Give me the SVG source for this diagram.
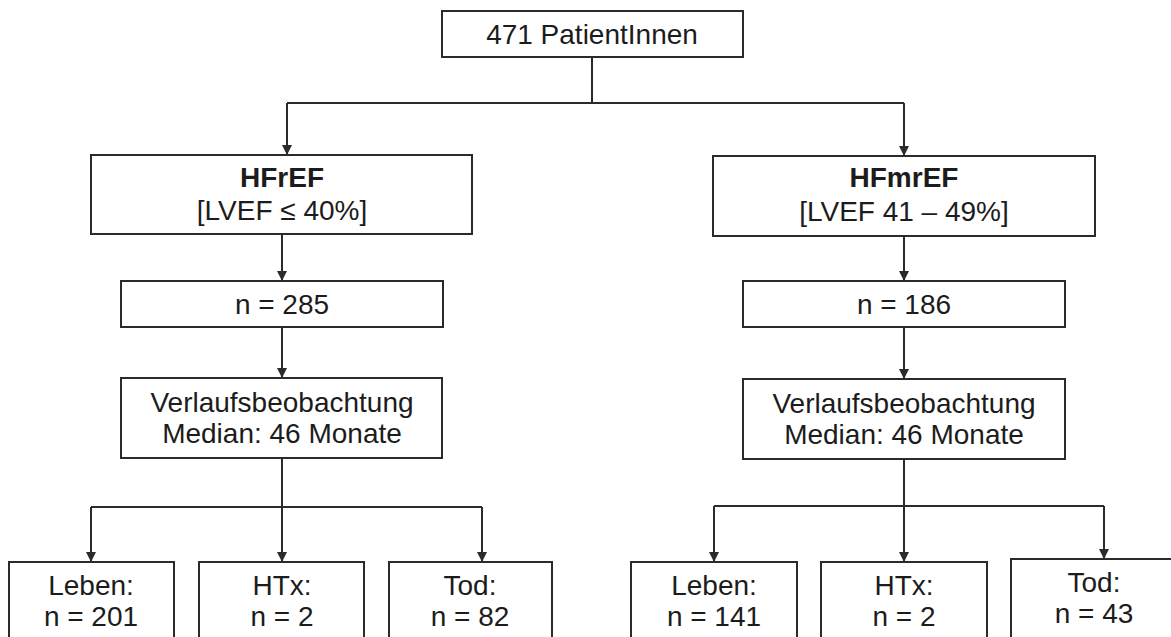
<svg xmlns="http://www.w3.org/2000/svg" width="1171" height="637" viewBox="0 0 1171 637">
  <style>
    .box { fill: #ffffff; stroke: #2b2b2b; stroke-width: 2; }
    .lbl { font-family: "Liberation Sans", Arial, Helvetica, sans-serif; font-size: 28px; fill: #1c1c1c; text-anchor: middle; }
    .bold { font-weight: bold; }
    .wire { fill: none; stroke: #2b2b2b; stroke-width: 2; }
    .arrow { fill: none; stroke: #2b2b2b; stroke-width: 2; marker-end: url(#head); }
  </style>
  <defs>
    <marker id="head" markerUnits="userSpaceOnUse" markerWidth="10" markerHeight="11" refX="10" refY="5" orient="auto" viewBox="0 0 10 10">
      <path d="M0,0 L10,5 L0,10 z" fill="#2b2b2b"/>
    </marker>
  </defs>
  <rect width="1171" height="637" fill="#ffffff"/>

  <!-- connectors -->
  <g id="connectors">
    <path class="wire" d="M592,57 V103 M287,103 H904"/>
    <path class="arrow" d="M287,103 V155"/>
    <path class="arrow" d="M904,103 V156"/>
    <path class="arrow" d="M282,234 V281"/>
    <path class="arrow" d="M282,327 V378"/>
    <path class="arrow" d="M904,236 V281"/>
    <path class="arrow" d="M904,327 V379"/>
    <!-- left branch -->
    <path class="wire" d="M282,458 V507 M91,507 H482"/>
    <path class="arrow" d="M91,507 V562"/>
    <path class="arrow" d="M282,507 V562"/>
    <path class="arrow" d="M482,507 V562"/>
    <!-- right branch -->
    <path class="wire" d="M904,459 V506 M714,506 H1104"/>
    <path class="arrow" d="M714,506 V562"/>
    <path class="arrow" d="M904,506 V562"/>
    <path class="arrow" d="M1104,506 V559"/>
  </g>

  <g id="root">
    <rect class="box" x="442" y="11" width="301" height="46"/>
    <text class="lbl" x="592" y="44">471 PatientInnen</text>
  </g>

  <g id="hfref">
    <rect class="box" x="91" y="155" width="381" height="79"/>
    <text class="lbl bold" x="282" y="187">HFrEF</text>
    <text class="lbl" x="282" y="220">[LVEF ≤ 40%]</text>
  </g>
  <g id="hfmref">
    <rect class="box" x="713" y="156" width="382" height="80"/>
    <text class="lbl bold" x="904" y="187">HFmrEF</text>
    <text class="lbl" x="904" y="221">[LVEF 41 – 49%]</text>
  </g>

  <g id="n285">
    <rect class="box" x="121" y="281" width="322" height="46"/>
    <text class="lbl" x="282" y="314">n = 285</text>
  </g>
  <g id="n186">
    <rect class="box" x="743" y="281" width="322" height="46"/>
    <text class="lbl" x="904" y="314">n = 186</text>
  </g>

  <g id="followup-left">
    <rect class="box" x="121" y="378" width="321" height="80"/>
    <text class="lbl" x="282" y="412">Verlaufsbeobachtung</text>
    <text class="lbl" x="282" y="443">Median: 46 Monate</text>
  </g>
  <g id="followup-right">
    <rect class="box" x="743" y="379" width="322" height="80"/>
    <text class="lbl" x="904" y="413">Verlaufsbeobachtung</text>
    <text class="lbl" x="904" y="444">Median: 46 Monate</text>
  </g>

  <!-- outcomes, left -->
  <g id="leben-left">
    <rect class="box" x="9" y="562" width="165" height="82"/>
    <text class="lbl" x="91" y="595">Leben:</text>
    <text class="lbl" x="91" y="626">n = 201</text>
  </g>
  <g id="htx-left">
    <rect class="box" x="199" y="562" width="165" height="82"/>
    <text class="lbl" x="282" y="595">HTx:</text>
    <text class="lbl" x="282" y="626">n = 2</text>
  </g>
  <g id="tod-left">
    <rect class="box" x="389" y="562" width="163" height="82"/>
    <text class="lbl" x="470" y="595">Tod:</text>
    <text class="lbl" x="470" y="626">n = 82</text>
  </g>

  <!-- outcomes, right -->
  <g id="leben-right">
    <rect class="box" x="631" y="562" width="166" height="82"/>
    <text class="lbl" x="714" y="595">Leben:</text>
    <text class="lbl" x="714" y="626">n = 141</text>
  </g>
  <g id="htx-right">
    <rect class="box" x="821" y="562" width="166" height="82"/>
    <text class="lbl" x="904" y="595">HTx:</text>
    <text class="lbl" x="904" y="626">n = 2</text>
  </g>
  <g id="tod-right">
    <rect class="box" x="1011" y="559" width="166" height="85"/>
    <text class="lbl" x="1094" y="592">Tod:</text>
    <text class="lbl" x="1094" y="623">n = 43</text>
  </g>
</svg>
